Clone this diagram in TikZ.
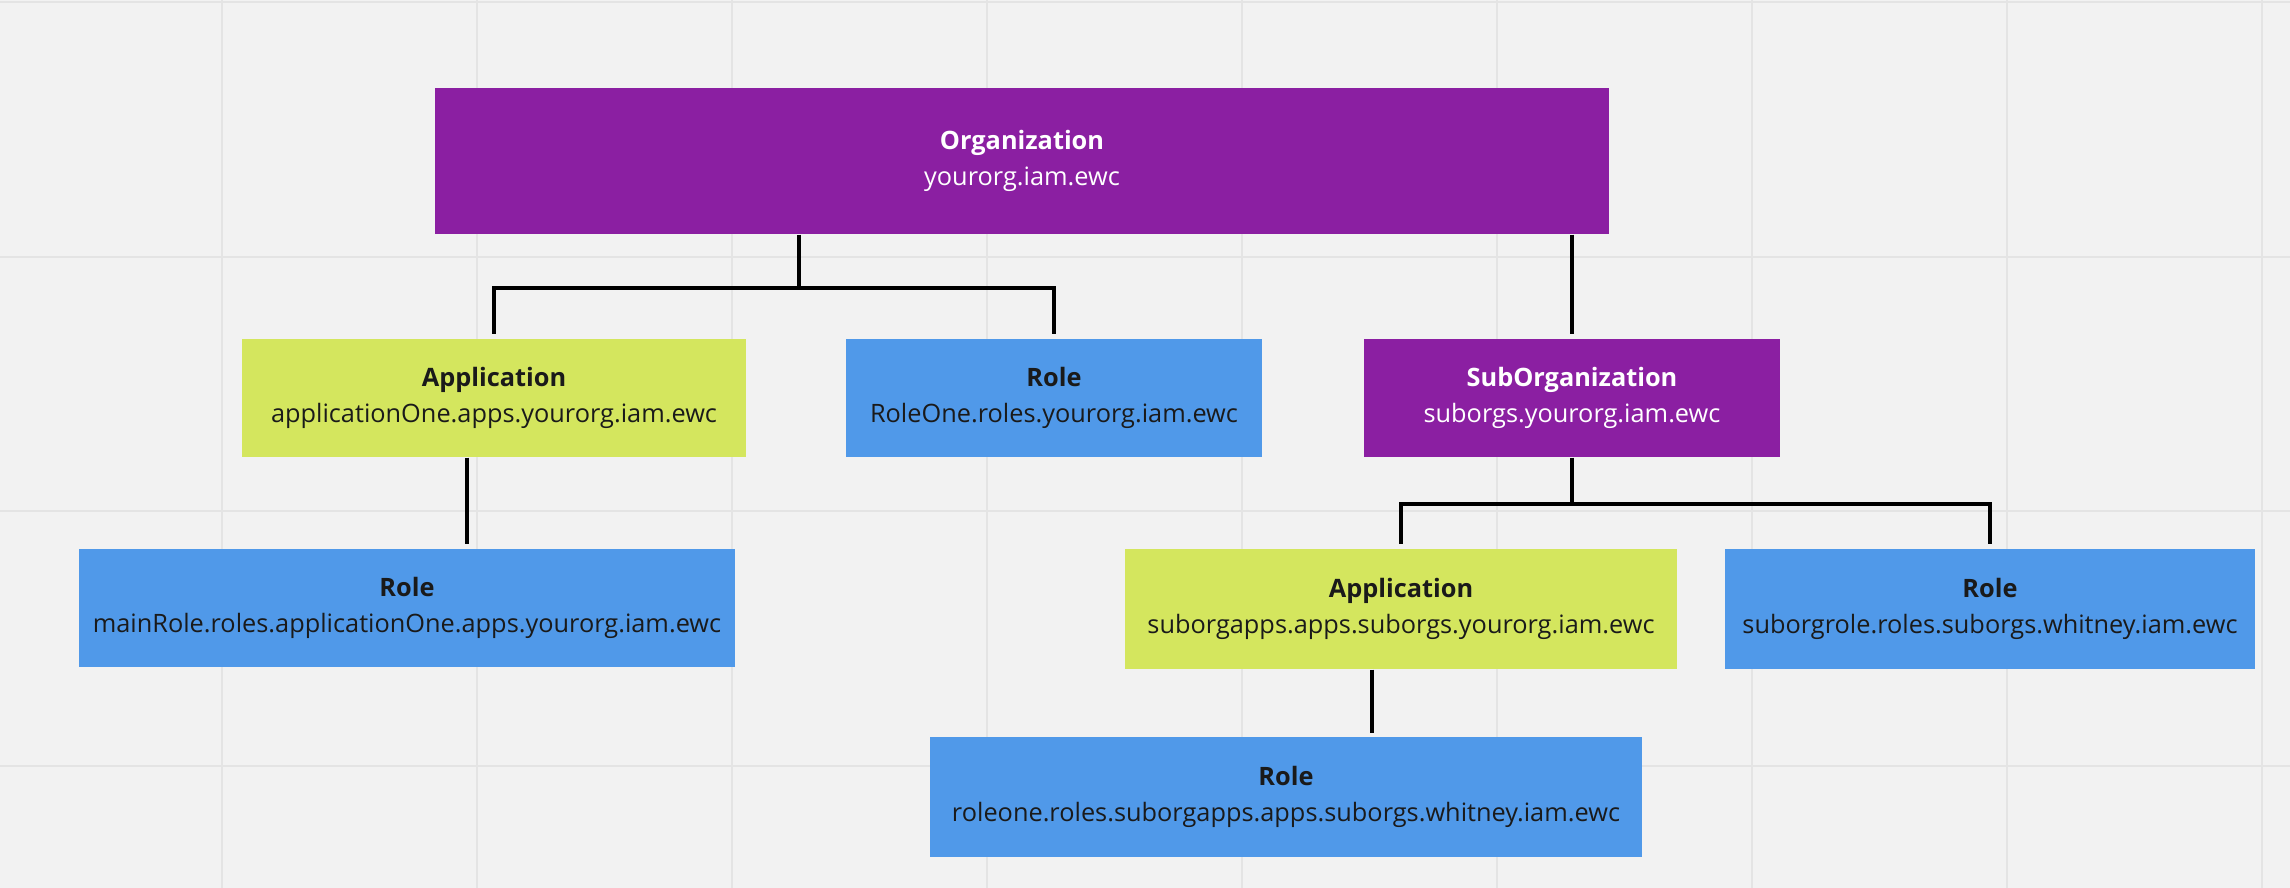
\documentclass[tikz,border=0pt]{standalone}
\usepackage{fontspec}
\setmainfont{Open Sans}
\usetikzlibrary{calc}

\definecolor{bgcol}{HTML}{F2F2F2}
\definecolor{gridcol}{HTML}{E4E4E4}
\definecolor{orgcol}{HTML}{8B1FA2}
\definecolor{appcol}{HTML}{D4E65E}
\definecolor{rolecol}{HTML}{5099E9}
\definecolor{inkcol}{HTML}{1A1A1A}

\tikzset{
  box/.style={inner sep=0pt,align=center,font=\fontsize{7.2}{10}\selectfont,minimum height=1.18cm},
  org/.style={box,fill=orgcol,text=white},
  app/.style={box,fill=appcol,text=inkcol},
  role/.style={box,fill=rolecol,text=inkcol},
  link/.style={line width=0.9pt,black,shorten >=0.04cm},
  gridline/.style={gridcol,line width=0.6pt}
}

\begin{document}
\begin{tikzpicture}[x=0.01cm,y=-0.01cm]
			% board and its grid
			\fill[bgcol] (0,0) rectangle (2290,888);
			\useasboundingbox (0,0) rectangle (2290,888);
			\foreach \x in {0,...,8} \draw[gridline] ({222+255*\x},0) -- ++(0,888);
			\foreach \y in {2,257,511,766} \draw[gridline] (0,\y) -- ++(2290,0);
			% top level
			\node[org,minimum width=11.74cm,minimum height=1.46cm] (org) at (1022,161) {\textbf{Organization}\\yourorg.iam.ewc};
			% second row
			\node[app,minimum width=5.03cm] (app1) at (494,398) {\textbf{Application}\\applicationOne.apps.yourorg.iam.ewc};
			\node[role,minimum width=4.16cm] (role1) at (1054,398) {\textbf{Role}\\RoleOne.roles.yourorg.iam.ewc};
			\node[org,minimum width=4.16cm] (suborg) at (1572,398) {\textbf{SubOrganization}\\suborgs.yourorg.iam.ewc};
			% third row
			\node[role,minimum width=6.55cm] (role2) at (407,608) {\textbf{Role}\\mainRole.roles.applicationOne.apps.yourorg.iam.ewc};
			\node[app,minimum width=5.51cm,minimum height=1.2cm] (app2) at (1401,609) {\textbf{Application}\\suborgapps.apps.suborgs.yourorg.iam.ewc};
			\node[role,minimum width=5.30cm,minimum height=1.2cm] (role3) at (1990,609) {\textbf{Role}\\suborgrole.roles.suborgs.whitney.iam.ewc};
			% bottom row
			\node[role,minimum width=7.12cm,minimum height=1.19cm] (role4) at (1286,797) {\textbf{Role}\\roleone.roles.suborgapps.apps.suborgs.whitney.iam.ewc};
			% connectors
			\coordinate (j1) at (799,288);
			\coordinate (j2) at (1572,504);
			\coordinate (c2) at (467,0);
			\coordinate (c4) at (1372,0);
			\draw[line width=0.9pt] (org.south -| j1) -- (j1);
			\draw[link] (j1) -| (app1.north);
			\draw[link] (j1) -| (role1.north);
			\draw[link] (org.south -| suborg.north) -- (suborg.north);
			\draw[link] (app1.south -| c2) -- (role2.north -| c2);
			\draw[line width=0.9pt] (suborg.south) -- (j2);
			\draw[link] (j2) -| (app2.north);
			\draw[link] (j2) -| (role3.north);
			\draw[link] (app2.south -| c4) -- (role4.north -| c4);
		\end{tikzpicture}
\end{document}
